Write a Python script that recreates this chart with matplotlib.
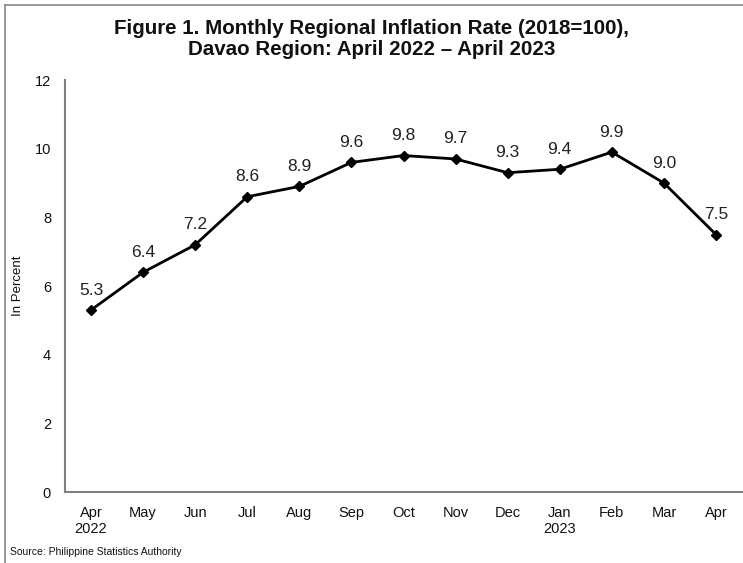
import matplotlib
matplotlib.use("Agg")
import matplotlib.pyplot as plt
from matplotlib.lines import Line2D

months = ["Apr\n2022", "May", "Jun", "Jul", "Aug", "Sep", "Oct", "Nov", "Dec", "Jan\n2023", "Feb", "Mar", "Apr"]
inflation = [5.3, 6.4, 7.2, 8.6, 8.9, 9.6, 9.8, 9.7, 9.3, 9.4, 9.9, 9.0, 7.5]
yticks = [0, 2, 4, 6, 8, 10, 12]

plt.rcParams['font.family'] = ['Liberation Sans', 'DejaVu Sans']

fig = plt.figure(figsize=(7.43, 5.63), dpi=100)
ax = fig.add_axes([65/743, 1-492/563, (742-65)/743, (492-80)/563])

x = list(range(len(months)))
ax.plot(x, inflation, color='black', lw=2, marker='D', ms=5.5, zorder=3)
for xi, v in zip(x, inflation):
    ax.annotate(f"{v:.1f}", (xi, v), textcoords='offset points', xytext=(0, 9),
                ha='center', va='bottom', fontsize=12.5, color='#222222')

ax.set_xlim(-0.5, len(months) - 0.5)
ax.set_ylim(0, 12)
ax.set_yticks(yticks)
ax.set_xticks(x)
ax.set_xticklabels(months, fontsize=10.5, color='#111111', linespacing=1.2)
ax.set_yticklabels([str(t) for t in yticks], fontsize=10.5, color='#111111')
ax.tick_params(length=0, pad=10)
ax.tick_params(axis='x', pad=10)
for s in ['top', 'right']:
    ax.spines[s].set_visible(False)
for s in ['left', 'bottom']:
    ax.spines[s].set_color('#7f7f7f')
    ax.spines[s].set_linewidth(1.5)
ax.set_ylabel("In Percent", fontsize=9.5, color='#111111')
ax.yaxis.set_label_coords(-(65-24)/677, 0.5)

fig.text(0.5, 1-39/563, "Figure 1. Monthly Regional Inflation Rate (2018=100),\nDavao Region: April 2022 \u2013 April 2023",
         ha='center', va='center', fontsize=14.8, fontweight='bold', color='#111111',
         linespacing=1.1)
fig.text(10/743, 1-552/563, "Source: Philippine Statistics Authority", fontsize=7.5, color='#111111', va='center')

fig.add_artist(Line2D([5/743, 1], [1-5/563, 1-5/563], color='#888888', lw=1.2, transform=fig.transFigure))
fig.add_artist(Line2D([5/743, 5/743], [0, 1-5/563], color='#888888', lw=1.2, transform=fig.transFigure))

fig.savefig("out.png", dpi=100)
